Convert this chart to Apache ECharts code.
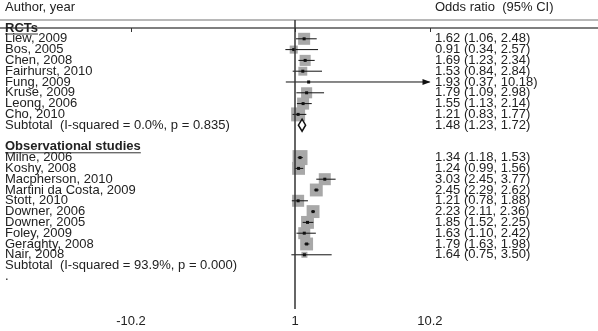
<!DOCTYPE html>
<html lang="en">
<head>
<meta charset="UTF-8">
<title>Forest plot</title>
<style>
  html, body { margin: 0; padding: 0; background: #fff; }
  #main { width: 598px; height: 331px; }
</style>
</head>
<body>
<div id="main"></div>
<script src="https://cdn.jsdelivr.net/npm/echarts@6/dist/echarts.min.js"></script>
<script>
// --- data ---
var rctStudies = ['Liew, 2009', 'Bos, 2005', 'Chen, 2008', 'Fairhurst, 2010', 'Fung, 2009', 'Kruse, 2009', 'Leong, 2006', 'Cho, 2010'];
var rctOR   = [1.62, 0.91, 1.69, 1.53, 1.93, 1.79, 1.55, 1.21];
var rctLow  = [1.06, 0.34, 1.23, 0.84, 0.37, 1.09, 1.13, 0.83];
var rctHigh = [2.48, 2.57, 2.34, 2.84, 10.18, 2.98, 2.14, 1.77];
var rctWeight = [10, 4.5, 8.5, 5.5, 0.5, 8.5, 10, 13.5];
var rctSubtotal = ['Subtotal  (I-squared = 0.0%, p = 0.835)', 1.48, 1.23, 1.72];

var obsStudies = ['Milne, 2006', 'Koshy, 2008', 'Macpherson, 2010', 'Martini da Costa, 2009', 'Stott, 2010', 'Downer, 2006', 'Downer, 2005', 'Foley, 2009', 'Geraghty, 2008', 'Nair, 2008'];
var obsOR   = [1.34, 1.24, 3.03, 2.45, 1.21, 2.23, 1.85, 1.63, 1.79, 1.64];
var obsLow  = [1.18, 0.99, 2.45, 2.29, 0.78, 2.11, 1.52, 1.10, 1.63, 0.75];
var obsHigh = [1.53, 1.56, 3.77, 2.62, 1.88, 2.36, 2.25, 2.42, 1.98, 3.50];
var obsWeight = [15.5, 11.5, 10, 11.5, 10, 11.5, 11.5, 10, 11.5, 2.5];
var obsSubtotalLabel = 'Subtotal  (I-squared = 93.9%, p = 0.000)';

var xTicks = [-10.2, 1, 10.2];
var headers = ['RCTs', 'Observational studies'];

// --- rows, top to bottom ---
var rows = ['RCTs'].concat(rctStudies, [rctSubtotal[0], '', 'Observational studies'], obsStudies, [obsSubtotalLabel, '.']);
var rowText = {};   // right hand column
var studyData = [];
function addGroup(names, or, lo, hi, w) {
  names.forEach(function (n, i) {
    var r = rows.indexOf(n);
    rowText[r] = or[i].toFixed(2) + ' (' + lo[i].toFixed(2) + ', ' + hi[i].toFixed(2) + ')';
    studyData.push([r, or[i], lo[i], hi[i], w[i]]);
  });
}
addGroup(rctStudies, rctOR, rctLow, rctHigh, rctWeight);
addGroup(obsStudies, obsOR, obsLow, obsHigh, obsWeight);
var subRow = rows.indexOf(rctSubtotal[0]);
rowText[subRow] = rctSubtotal[1].toFixed(2) + ' (' + rctSubtotal[2].toFixed(2) + ', ' + rctSubtotal[3].toFixed(2) + ')';
var subtotalData = [[subRow, rctSubtotal[1], rctSubtotal[2], rctSubtotal[3]]];
var leftRows = rows.map(function (r, i) { return [0, i]; });
var rightRows = Object.keys(rowText).map(function (k) { return [0, Number(k)]; });

var FONT = 'Liberation Sans, Arial, sans-serif';
var measure = document.createElement('canvas').getContext('2d');
measure.font = 'bold 13px ' + FONT;

var X_MIN = -19.14, X_MAX = 21.68, Y_MIN = -0.741, Y_MAX = 26.02;

var chart = echarts.init(document.getElementById('main'));
chart.setOption({
  animation: false,
  backgroundColor: '#fff',
  title: [
    { text: 'Author, year', left: 5, top: 1, padding: 0, textStyle: { fontSize: 13, fontWeight: 'normal', color: '#222', fontFamily: FONT } },
    { text: 'Odds ratio  (95% CI)', left: 435, top: 1, padding: 0, textStyle: { fontSize: 13, fontWeight: 'normal', color: '#222', fontFamily: FONT } }
  ],
  grid: { left: 0, right: 0, top: 20, bottom: 22, containLabel: false, outerBoundsMode: 'none' },
  xAxis: [{
    type: 'value', min: X_MIN, max: X_MAX, position: 'bottom',
    axisLine: { lineStyle: { color: '#555', width: 1.5 } },
    axisTick: { customValues: xTicks, length: 4, lineStyle: { color: '#333' } },
    axisLabel: { customValues: xTicks, margin: 6, fontSize: 13, color: '#222', fontFamily: FONT },
    splitLine: { show: false }
  }, {
    type: 'value', min: X_MIN, max: X_MAX, position: 'top',
    axisLine: { lineStyle: { color: '#b8b8b8', width: 2 } },
    axisTick: { show: false }, axisLabel: { show: false }, splitLine: { show: false }
  }],
  yAxis: {
    type: 'value', min: Y_MIN, max: Y_MAX, inverse: true,
    axisLine: { show: false }, axisTick: { show: false }, splitLine: { show: false }, axisLabel: { show: false }
  },
  series: [{
    // study squares and confidence intervals
    type: 'custom',
    silent: true,
    data: studyData,
    renderItem: function (params, api) {
      var row = api.value(0);
      var c = api.coord([api.value(1), row]);
      var pl = api.coord([api.value(2), row]);
      var ph = api.coord([api.value(3), row]);
      var s = 3.8 * Math.sqrt(api.value(4));
      var kids = [
        { type: 'rect', shape: { x: c[0] - s / 2, y: c[1] - s / 2, width: s, height: s }, style: { fill: '#a8a8a8' } },
        { type: 'line', shape: { x1: pl[0], y1: c[1], x2: ph[0], y2: c[1] }, style: { stroke: '#111', lineWidth: 1 } },
        { type: 'rect', shape: { x: c[0] - 1.5, y: c[1] - 1.5, width: 3, height: 3 }, style: { fill: '#111' } }
      ];
      if (api.value(3) > 10) {
        kids.push({ type: 'polygon', shape: { points: [[ph[0] + 1, c[1]], [ph[0] - 7, c[1] - 3], [ph[0] - 7, c[1] + 3]] }, style: { fill: '#111' } });
      }
      return { type: 'group', children: kids };
    },
    markLine: {
      silent: true, symbol: 'none', label: { show: false },
      lineStyle: { color: '#333', width: 1.5, type: 'solid' },
      data: [{ xAxis: 1 }]
    }
  }, {
    // pooled estimate diamond
    type: 'custom',
    silent: true,
    data: subtotalData,
    renderItem: function (params, api) {
      var row = api.value(0);
      var c = api.coord([api.value(1), row]);
      var pl = api.coord([api.value(2), row]);
      var ph = api.coord([api.value(3), row]);
      return {
        type: 'polygon',
        shape: { points: [[pl[0], c[1]], [c[0], c[1] - 6], [ph[0], c[1]], [c[0], c[1] + 6]] },
        style: { fill: '#fff', stroke: '#111', lineWidth: 1.5 }
      };
    }
  }, {
    // left column: study names, section headers (bold + underlined)
    type: 'custom',
    silent: true,
    data: leftRows,
    renderItem: function (params, api) {
      var r = api.value(1);
      var y = api.coord([0, r])[1];
      var x0 = params.coordSys.x + 5;
      var isHead = headers.indexOf(rows[r]) >= 0;
      var kids = [{
        type: 'text',
        style: { text: rows[r], x: x0, y: y, verticalAlign: 'middle', align: 'left', fill: '#222',
          font: (isHead ? 'bold ' : '') + '13px ' + FONT }
      }];
      if (isHead) {
        var w = measure.measureText(rows[r]).width;
        kids.push({ type: 'line', shape: { x1: x0, y1: y + 6, x2: x0 + w, y2: y + 6 }, style: { stroke: '#333', lineWidth: 1 } });
      }
      return { type: 'group', children: kids };
    }
  }, {
    // right column: OR (95% CI)
    type: 'custom',
    silent: true,
    data: rightRows,
    renderItem: function (params, api) {
      var r = api.value(1);
      var y = api.coord([0, r])[1];
      return {
        type: 'text',
        style: { text: rowText[r], x: params.coordSys.x + params.coordSys.width - 163, y: y,
          verticalAlign: 'middle', align: 'left', fill: '#222', font: '13px ' + FONT }
      };
    }
  }]
});
</script>
</body>
</html>
